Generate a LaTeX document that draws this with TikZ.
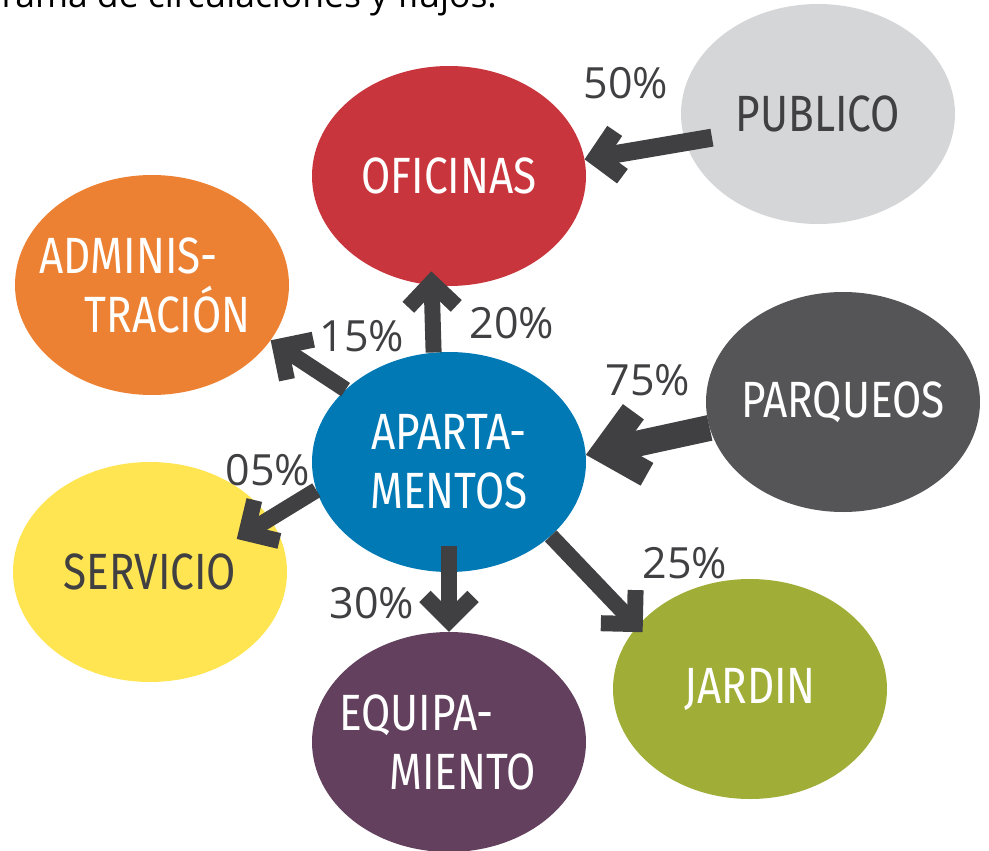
\documentclass[tikz,border=0pt]{standalone}
\usepackage{fontspec}
\setmainfont{Open Sans}
\newfontfamily\labelfont[FakeStretch=0.83]{Fira Sans}
\usetikzlibrary{shapes.geometric,arrows.meta}

\begin{document}
\begin{tikzpicture}[x=1pt,y=-1pt]
\definecolor{red1}{RGB}{201,53,60}
\definecolor{grey1}{RGB}{213,214,216}
\definecolor{orange1}{RGB}{236,129,51}
\definecolor{grey2}{RGB}{85,85,87}
\definecolor{blue1}{RGB}{0,121,180}
\definecolor{yellow1}{RGB}{255,229,82}
\definecolor{purple1}{RGB}{99,64,93}
\definecolor{green1}{RGB}{160,173,55}
\definecolor{black1}{RGB}{64,64,66}
\tikzset{
  zone/.style={ellipse,minimum width=274pt,minimum height=220pt,inner ysep=0pt,inner xsep=-40pt,
    text=white,align=center,font=\labelfont\fontsize{51}{59}\selectfont},
  pct/.style={text=black1,font=\fontsize{43}{43}\selectfont},
  flow/.style={draw=black1,line width=16pt,-{Straight Barb[length=24pt,width=48pt]}},
  flowmid/.style={flow,line width=18pt,-{Straight Barb[length=22pt,width=46pt]}},
  flowbig/.style={flow,line width=26pt,-{Straight Barb[length=36pt,width=64pt]}}
}
\useasboundingbox (0,0) rectangle (989,851);
\node[anchor=base west] (title) at (-2,8) {\fontsize{35.5}{35.5}\selectfont rama de circulaciones y flujos.};

\node[zone,fill=red1] (ofi) at (449,176) {OFICINAS};
\node[zone,fill=grey1,text=black1] (pub) at (818,114) {PUBLICO};
\node[zone,fill=orange1,align=left] (adm) at (152,285) {ADMINIS-\\\hspace*{45pt}TRACIÓN\hspace*{14pt}};
\node[zone,fill=grey2] (par) at (843,402) {PARQUEOS};
\node[zone,fill=blue1] (apt) at (449,462) {APARTA-\\MENTOS};
\node[zone,fill=yellow1,text=black1] (ser) at (150,572) {SERVICIO};
\node[zone,fill=purple1,align=left] (equ) at (449,742) {EQUIPA-\\\hspace*{50pt}MIENTO\hspace*{23pt}};
\node[zone,fill=green1] (jar) at (750,689) {JARDIN};

\node[pct] (p50) at (626,83) {50\%};
\node[pct] (p20) at (512,323) {20\%};
\node[pct] (p15) at (362,336) {15\%};
\node[pct] (p75) at (648,380) {75\%};
\node[pct] (p05) at (268,470) {05\%};
\node[pct] (p30) at (372,603) {30\%};
\node[pct] (p25) at (685,563) {25\%};

\draw[flowmid,shorten <=-27pt] (pub.192) -- (ofi.7);
\draw[flow,shorten >=-14pt] (apt.98) -- (ofi.261);
\draw[flow] (apt.145) -- (adm.335);
\draw[flow,shorten >=-39pt] (apt.192) -- (ser.24);
\draw[flow,shorten <=-26pt] (apt.south) -- (equ.north);
\draw[flow,shorten >=-8pt] (apt.324) -- (jar.151);
\draw[flowbig] (par.191) -- (apt.3);
\end{tikzpicture}
\end{document}
